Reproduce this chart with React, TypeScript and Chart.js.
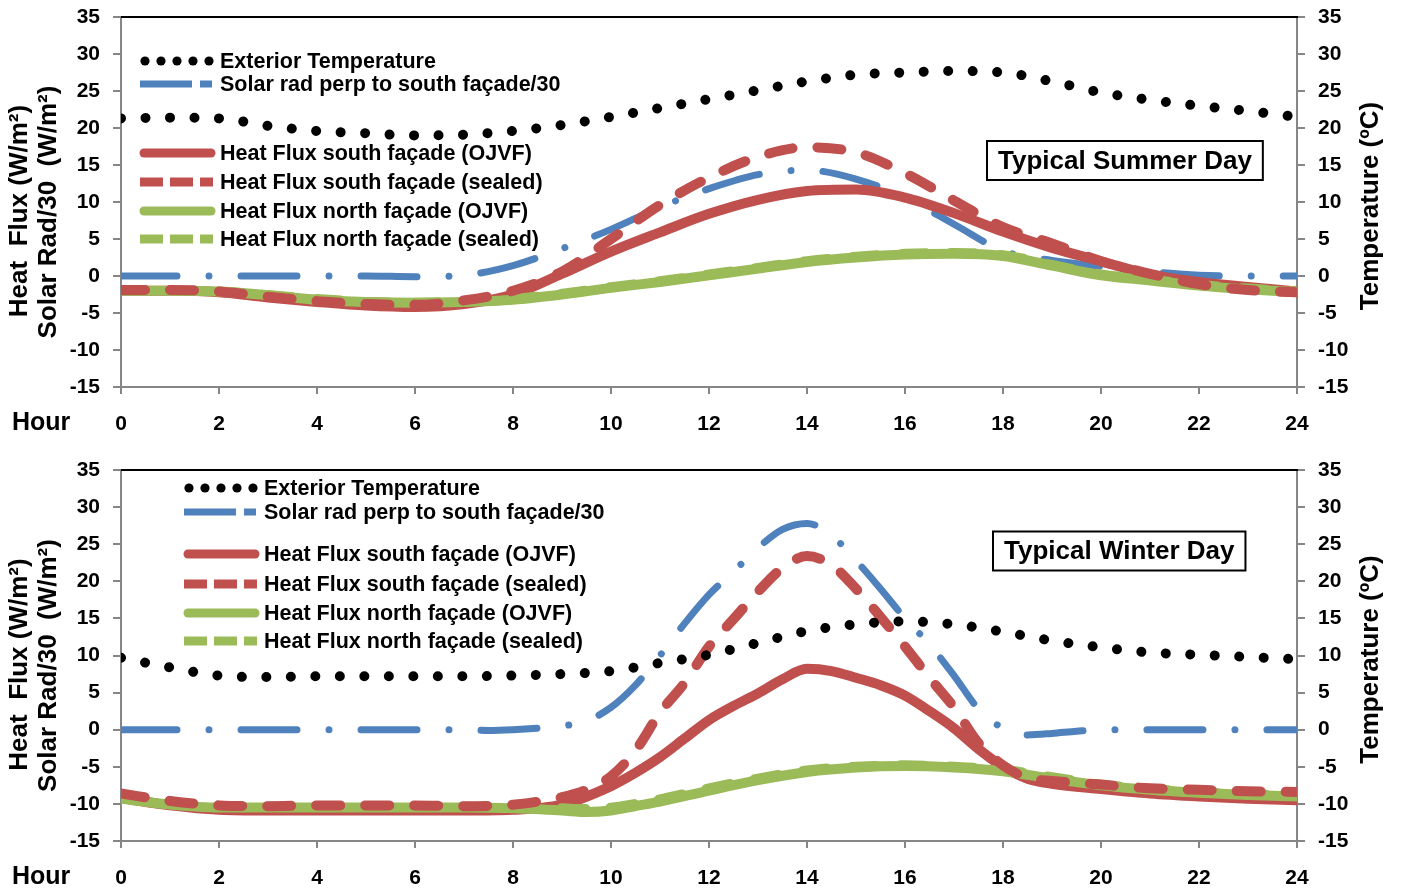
import { useEffect, useRef } from 'react';
import { Chart, registerables } from 'chart.js';

Chart.register(...registerables);

const FONT = '"Liberation Sans", Arial, Helvetica, sans-serif';
const AXIS_GREY = '#868686';
const BLACK = '#000000';
const BLUE = '#4F81BD';
const RED = '#C0504D';
const GREEN = '#9BBB59';

// Axis ticks
const HOUR_TICKS = [0, 2, 4, 6, 8, 10, 12, 14, 16, 18, 20, 22, 24];
const VALUE_TICKS = [-15, -10, -5, 0, 5, 10, 15, 20, 25, 30, 35];

const HOURS = [0, 1, 2, 3, 4, 5, 6, 7, 8, 9, 10, 11, 12, 13, 14, 15, 16, 17, 18, 19, 20, 21, 22, 23, 24];

const SERIES_NAMES = [
  'Exterior Temperature',
  'Solar rad perp to south façade/30',
  'Heat Flux south façade (OJVF)',
  'Heat Flux south façade (sealed)',
  'Heat Flux north façade (OJVF)',
  'Heat Flux north façade (sealed)',
];

const LEFT_TITLE = ['Heat  Flux (W/m²)', 'Solar Rad/30  (W/m²)'];
const RIGHT_TITLE = 'Temperature (ºC)';
const X_TITLE = 'Hour';

// ---- Typical summer day (hourly) ----
const SUMMER_TEMP = [21.3, 21.4, 21.3, 20.3, 19.6, 19.3, 19.0, 19.1, 19.6, 20.4, 21.5, 22.7, 23.9, 25.1, 26.3, 27.2, 27.5, 27.7, 27.5, 26.3, 24.8, 23.8, 23.0, 22.3, 21.5];
const SUMMER_SOLAR = [0, 0, 0, 0, 0, 0, -0.1, 0.1, 1.4, 3.7, 6.3, 9.3, 11.8, 13.7, 14.3, 13.1, 10.6, 7.0, 3.4, 2.1, 1.3, 0.6, 0.1, 0, 0];
const SUMMER_SOUTH_OJVF = [-2.0, -2.0, -2.2, -2.9, -3.5, -4.0, -4.2, -3.8, -2.5, 0.3, 3.3, 5.9, 8.4, 10.3, 11.5, 11.7, 10.6, 8.5, 6.0, 3.8, 2.0, 0.2, -0.8, -1.5, -2.1];
const SUMMER_SOUTH_SEALED = [-1.9, -1.9, -2.1, -2.8, -3.4, -3.8, -3.9, -3.3, -2.0, 0.6, 5.0, 9.6, 13.3, 16.1, 17.4, 16.7, 13.9, 10.2, 6.6, 4.4, 2.0, 0.3, -1.1, -1.9, -2.2];
const SUMMER_NORTH_OJVF = [-2.0, -2.0, -2.1, -2.6, -3.2, -3.5, -3.6, -3.5, -3.2, -2.5, -1.6, -0.8, 0.1, 1.0, 1.9, 2.5, 2.9, 3.0, 2.7, 1.4, 0.1, -0.6, -1.3, -1.8, -2.2];
const SUMMER_NORTH_SEALED = [-1.9, -2.0, -2.1, -2.6, -3.1, -3.5, -3.6, -3.4, -3.1, -2.4, -1.5, -0.7, 0.2, 1.1, 2.0, 2.6, 3.0, 3.1, 2.8, 1.5, 0.2, -0.5, -1.2, -1.7, -2.1];

// ---- Typical winter day ----
const WINTER_TEMP = [9.7, 8.4, 7.3, 7.1, 7.2, 7.2, 7.2, 7.2, 7.3, 7.5, 7.9, 9.0, 10.1, 11.7, 13.3, 14.2, 14.6, 14.2, 13.2, 12.0, 11.1, 10.4, 10.1, 9.8, 9.5];

const WINTER_SOLAR_HOURS = [0, 1, 2, 3, 4, 5, 6, 7, 7.5, 8, 8.5, 9, 9.5, 10, 10.5, 11, 11.5, 12, 12.5, 13, 13.5, 14, 14.5, 15, 15.5, 16, 16.5, 17, 17.5, 18, 18.5, 19, 19.5, 20, 21, 22, 23, 24];
const WINTER_SOLAR = [0, 0, 0, 0, 0, 0, 0, 0, -0.1, 0.0, 0.2, 0.5, 1.2, 3.0, 6.0, 10.0, 14.3, 18.2, 21.3, 24.5, 27.0, 27.8, 26.2, 22.8, 19.0, 15.0, 11.5, 7.3, 2.8, 0.2, -0.7, -0.5, -0.2, 0, 0, 0, 0, 0];

const WINTER_SOUTH_SEALED_HOURS = [0, 1, 2, 3, 4, 5, 6, 7, 8, 8.5, 9, 9.5, 10, 10.5, 11, 11.5, 12, 12.5, 13, 13.5, 14, 14.5, 15, 15.5, 16, 16.5, 17, 17.5, 18, 18.5, 19, 20, 21, 22, 23, 24];
const WINTER_SOUTH_SEALED = [-8.6, -9.6, -10.2, -10.3, -10.2, -10.2, -10.2, -10.3, -10.1, -9.7, -9.1, -8.1, -6.3, -2.8, 2.3, 6.3, 11.2, 14.9, 18.6, 21.8, 23.4, 22.2, 19.0, 15.2, 11.2, 7.0, 3.0, -1.8, -4.8, -6.5, -6.9, -7.4, -7.9, -8.1, -8.3, -8.4];

const WINTER_SOUTH_OJVF_HOURS = [0, 1, 2, 3, 4, 5, 6, 7, 8, 9, 10, 10.5, 11, 11.5, 12, 12.5, 13, 13.5, 14, 14.5, 15, 15.5, 16, 16.5, 17, 17.5, 18, 18.5, 19, 20, 21, 22, 23, 24];
const WINTER_SOUTH_OJVF = [-9.2, -10.2, -10.8, -10.9, -10.9, -10.9, -10.9, -10.9, -10.8, -10.1, -7.6, -5.8, -3.7, -1.2, 1.3, 3.2, 4.9, 6.8, 8.2, 7.9, 7.0, 6.0, 4.6, 2.5, 0.2, -2.6, -5.0, -6.6, -7.3, -8.0, -8.6, -9.0, -9.3, -9.5];

const WINTER_NORTH_HOURS = [0, 1, 2, 3, 4, 5, 6, 7, 8, 9, 9.5, 10, 10.5, 11, 12, 13, 14, 15, 16, 17, 18, 19, 20, 21, 22, 23, 24];
const WINTER_NORTH_OJVF = [-9.3, -10.1, -10.5, -10.5, -10.5, -10.5, -10.5, -10.5, -10.6, -10.9, -11.1, -10.9, -10.3, -9.7, -8.2, -6.8, -5.7, -5.1, -4.9, -5.1, -5.6, -6.6, -7.5, -8.1, -8.5, -8.8, -9.0];
const WINTER_NORTH_SEALED = [-9.2, -10.0, -10.4, -10.4, -10.4, -10.4, -10.4, -10.4, -10.4, -10.6, -10.7, -10.5, -10.0, -9.4, -7.9, -6.6, -5.5, -5.0, -4.8, -5.0, -5.4, -6.4, -7.4, -8.0, -8.4, -8.7, -8.9];

type Pt = { x: number; y: number };
const toPoints = (xs: number[], ys: number[]): Pt[] => xs.map((x, i) => ({ x, y: ys[i] }));

type SeriesKind = 'temp' | 'solar' | 'southSolid' | 'southDash' | 'northSolid' | 'northDash';
const LEGEND_KINDS: SeriesKind[] = ['temp', 'solar', 'southSolid', 'southDash', 'northSolid', 'northDash'];

interface DayConfig {
  title: string;
  temp: Pt[];
  solar: Pt[];
  southOjvf: Pt[];
  southSealed: Pt[];
  northOjvf: Pt[];
  northSealed: Pt[];
  padTop: number;
  xAxisHeight: number;
  legendX: number;
  legendRows: number[];
  boxX: number;
  boxY: number;
}

const SUMMER: DayConfig = {
  title: 'Typical Summer Day',
  temp: toPoints(HOURS, SUMMER_TEMP),
  solar: toPoints(HOURS, SUMMER_SOLAR),
  southOjvf: toPoints(HOURS, SUMMER_SOUTH_OJVF),
  southSealed: toPoints(HOURS, SUMMER_SOUTH_SEALED),
  northOjvf: toPoints(HOURS, SUMMER_NORTH_OJVF),
  northSealed: toPoints(HOURS, SUMMER_NORTH_SEALED),
  padTop: 17,
  xAxisHeight: 59,
  legendX: 19,
  legendRows: [44, 67, 136, 165, 194, 222],
  boxX: 866,
  boxY: 143.5,
};

const WINTER: DayConfig = {
  title: 'Typical Winter Day',
  temp: toPoints(HOURS, WINTER_TEMP),
  solar: toPoints(WINTER_SOLAR_HOURS, WINTER_SOLAR),
  southOjvf: toPoints(WINTER_SOUTH_OJVF_HOURS, WINTER_SOUTH_OJVF),
  southSealed: toPoints(WINTER_SOUTH_SEALED_HOURS, WINTER_SOUTH_SEALED),
  northOjvf: toPoints(WINTER_NORTH_HOURS, WINTER_NORTH_OJVF),
  northSealed: toPoints(WINTER_NORTH_HOURS, WINTER_NORTH_SEALED),
  padTop: 24,
  xAxisHeight: 51,
  legendX: 63,
  legendRows: [18, 42, 84, 114, 143, 171],
  boxX: 872,
  boxY: 81,
};

// Legend sample glyphs, drawn to look like the line styles
function drawSample(ctx: CanvasRenderingContext2D, kind: SeriesKind, x0: number, y: number) {
  ctx.save();
  ctx.setLineDash([]);
  if (kind === 'temp') {
    ctx.fillStyle = BLACK;
    for (let i = 0; i < 5; i++) {
      ctx.beginPath();
      ctx.arc(x0 + 5 + i * 16, y, 4.6, 0, Math.PI * 2);
      ctx.fill();
    }
  } else if (kind === 'solar') {
    ctx.strokeStyle = BLUE;
    ctx.lineWidth = 7;
    ctx.lineCap = 'butt';
    ctx.beginPath();
    ctx.moveTo(x0, y);
    ctx.lineTo(x0 + 52, y);
    ctx.moveTo(x0 + 60, y);
    ctx.lineTo(x0 + 72, y);
    ctx.stroke();
  } else {
    const color = kind === 'southSolid' || kind === 'southDash' ? RED : GREEN;
    const dashed = kind === 'southDash' || kind === 'northDash';
    ctx.strokeStyle = color;
    ctx.lineWidth = 9;
    ctx.beginPath();
    if (dashed) {
      ctx.lineCap = 'butt';
      ctx.setLineDash([23, 7]);
      ctx.moveTo(x0, y);
      ctx.lineTo(x0 + 73, y);
    } else {
      ctx.lineCap = 'round';
      ctx.moveTo(x0 + 4, y);
      ctx.lineTo(x0 + 71, y);
    }
    ctx.stroke();
  }
  ctx.restore();
}

function drawRotated(ctx: CanvasRenderingContext2D, text: string, x: number, y: number) {
  ctx.save();
  ctx.translate(x, y);
  ctx.rotate(-Math.PI / 2);
  ctx.fillText(text, 0, 0);
  ctx.restore();
}

const decorPlugin = {
  id: 'decor',
  afterDraw(chart: any, _args: any, opts: any) {
    const day: DayConfig = opts.day;
    const { ctx, chartArea: a } = chart;
    ctx.save();

    // Plot-area top edge
    ctx.strokeStyle = BLACK;
    ctx.lineWidth = 2;
    ctx.beginPath();
    ctx.moveTo(a.left, a.top);
    ctx.lineTo(a.right + 1, a.top);
    ctx.stroke();

    // Axis titles
    ctx.fillStyle = BLACK;
    ctx.font = `bold 26px ${FONT}`;
    ctx.textAlign = 'center';
    ctx.textBaseline = 'middle';
    const midY = (a.top + a.bottom) / 2;
    drawRotated(ctx, LEFT_TITLE[0], a.left - 101, midY + 9);
    drawRotated(ctx, LEFT_TITLE[1], a.left - 72, midY + 10);
    drawRotated(ctx, RIGHT_TITLE, a.right + 74, midY + 4);

    ctx.font = `bold 25px ${FONT}`;
    ctx.textAlign = 'left';
    ctx.fillText(X_TITLE, a.left - 109, a.bottom + 36);

    // Legend
    ctx.font = `bold 21.5px ${FONT}`;
    LEGEND_KINDS.forEach((kind, i) => {
      const y = a.top + day.legendRows[i];
      const x0 = a.left + day.legendX;
      drawSample(ctx, kind, x0, y);
      ctx.fillStyle = BLACK;
      ctx.textAlign = 'left';
      ctx.textBaseline = 'middle';
      ctx.fillText(SERIES_NAMES[i], x0 + 80, y + 1);
    });

    // Day label box
    ctx.font = `bold 26px ${FONT}`;
    const tw = ctx.measureText(day.title).width;
    const bx = a.left + day.boxX;
    const by = a.top + day.boxY;
    const bw = tw + 22;
    const bh = 39;
    ctx.fillStyle = '#ffffff';
    ctx.fillRect(bx, by - bh / 2, bw, bh);
    ctx.strokeStyle = BLACK;
    ctx.lineWidth = 2;
    ctx.strokeRect(bx, by - bh / 2, bw, bh);
    ctx.fillStyle = BLACK;
    ctx.textAlign = 'center';
    ctx.fillText(day.title, bx + bw / 2, by + 1);

    ctx.restore();
  },
};

function buildDatasets(day: DayConfig) {
  const common = {
    pointRadius: 0,
    pointHoverRadius: 0,
    fill: false,
    cubicInterpolationMode: 'monotone' as const,
    borderJoinStyle: 'round' as const,
    borderCapStyle: 'round' as const,
  };
  // Earlier entries are painted on top
  return [
    { ...common, label: SERIES_NAMES[0], data: day.temp, yAxisID: 'yTemp', borderColor: BLACK, borderWidth: 10, borderDash: [0.001, 24.5] },
    { ...common, label: SERIES_NAMES[3], data: day.southSealed, yAxisID: 'y', borderColor: RED, borderWidth: 10, borderDash: [24, 25] },
    { ...common, label: SERIES_NAMES[5], data: day.northSealed, yAxisID: 'y', borderColor: GREEN, borderWidth: 10, borderDash: [24, 25] },
    { ...common, label: SERIES_NAMES[4], data: day.northOjvf, yAxisID: 'y', borderColor: GREEN, borderWidth: 10 },
    { ...common, label: SERIES_NAMES[2], data: day.southOjvf, yAxisID: 'y', borderColor: RED, borderWidth: 10 },
    { ...common, label: SERIES_NAMES[1], data: day.solar, yAxisID: 'y', borderColor: BLUE, borderWidth: 7, borderDash: [56, 32, 0.001, 32] },
  ];
}

function valueAxis(position: 'left' | 'right', width: number) {
  return {
    type: 'linear' as const,
    position,
    min: -15,
    max: 35,
    afterBuildTicks: (scale: any) => {
      scale.ticks = VALUE_TICKS.map((value) => ({ value }));
    },
    afterFit: (scale: any) => {
      scale.width = width;
      // the plot area edges are set by the layout padding alone
      scale.paddingTop = 0;
      scale.paddingBottom = 0;
    },
    ticks: {
      color: BLACK,
      padding: 13,
      font: { family: FONT, size: 21, weight: 'bold' as const },
      callback: (v: any) => String(v),
    },
    grid: {
      display: true,
      drawOnChartArea: false,
      drawTicks: true,
      tickLength: 8,
      color: AXIS_GREY,
      lineWidth: 2,
    },
    border: { display: true, color: AXIS_GREY, width: 2 },
    title: { display: false },
  };
}

function DayChart({ day }: { day: DayConfig }) {
  const ref = useRef<HTMLCanvasElement>(null);

  useEffect(() => {
    if (!ref.current) return;
    const chart = new Chart(ref.current, {
      type: 'line',
      data: { datasets: buildDatasets(day) as any },
      options: {
        responsive: false,
        animation: false,
        devicePixelRatio: 1,
        parsing: false,
        normalized: true,
        layout: { padding: { top: day.padTop, left: 0, right: 0, bottom: 0 } },
        plugins: {
          legend: { display: false },
          tooltip: { enabled: false },
          decor: { day },
        } as any,
        scales: {
          x: {
            type: 'linear',
            min: 0,
            max: 24,
            afterBuildTicks: (scale: any) => {
              scale.ticks = HOUR_TICKS.map((value) => ({ value }));
            },
            afterFit: (scale: any) => {
              scale.height = day.xAxisHeight;
              scale.paddingLeft = 0;
              scale.paddingRight = 0;
            },
            ticks: {
              color: BLACK,
              padding: 18,
              maxRotation: 0,
              font: { family: FONT, size: 21, weight: 'bold' },
              callback: (v: any) => String(v),
            },
            grid: {
              display: true,
              drawOnChartArea: false,
              drawTicks: true,
              tickLength: 7,
              color: AXIS_GREY,
              lineWidth: 2,
            },
            border: { display: true, color: AXIS_GREY, width: 2 },
          },
          y: valueAxis('left', 121),
          yTemp: valueAxis('right', 104),
        },
      },
      plugins: [decorPlugin],
    });
    return () => chart.destroy();
  }, [day]);

  return <canvas ref={ref} width={1401} height={446} style={{ display: 'block', width: 1401, height: 446 }} />;
}

export default function App() {
  return (
    <div style={{ position: 'fixed', left: 0, top: 0, width: 1401, height: 892, background: '#ffffff' }}>
      <DayChart day={SUMMER} />
      <DayChart day={WINTER} />
    </div>
  );
}
